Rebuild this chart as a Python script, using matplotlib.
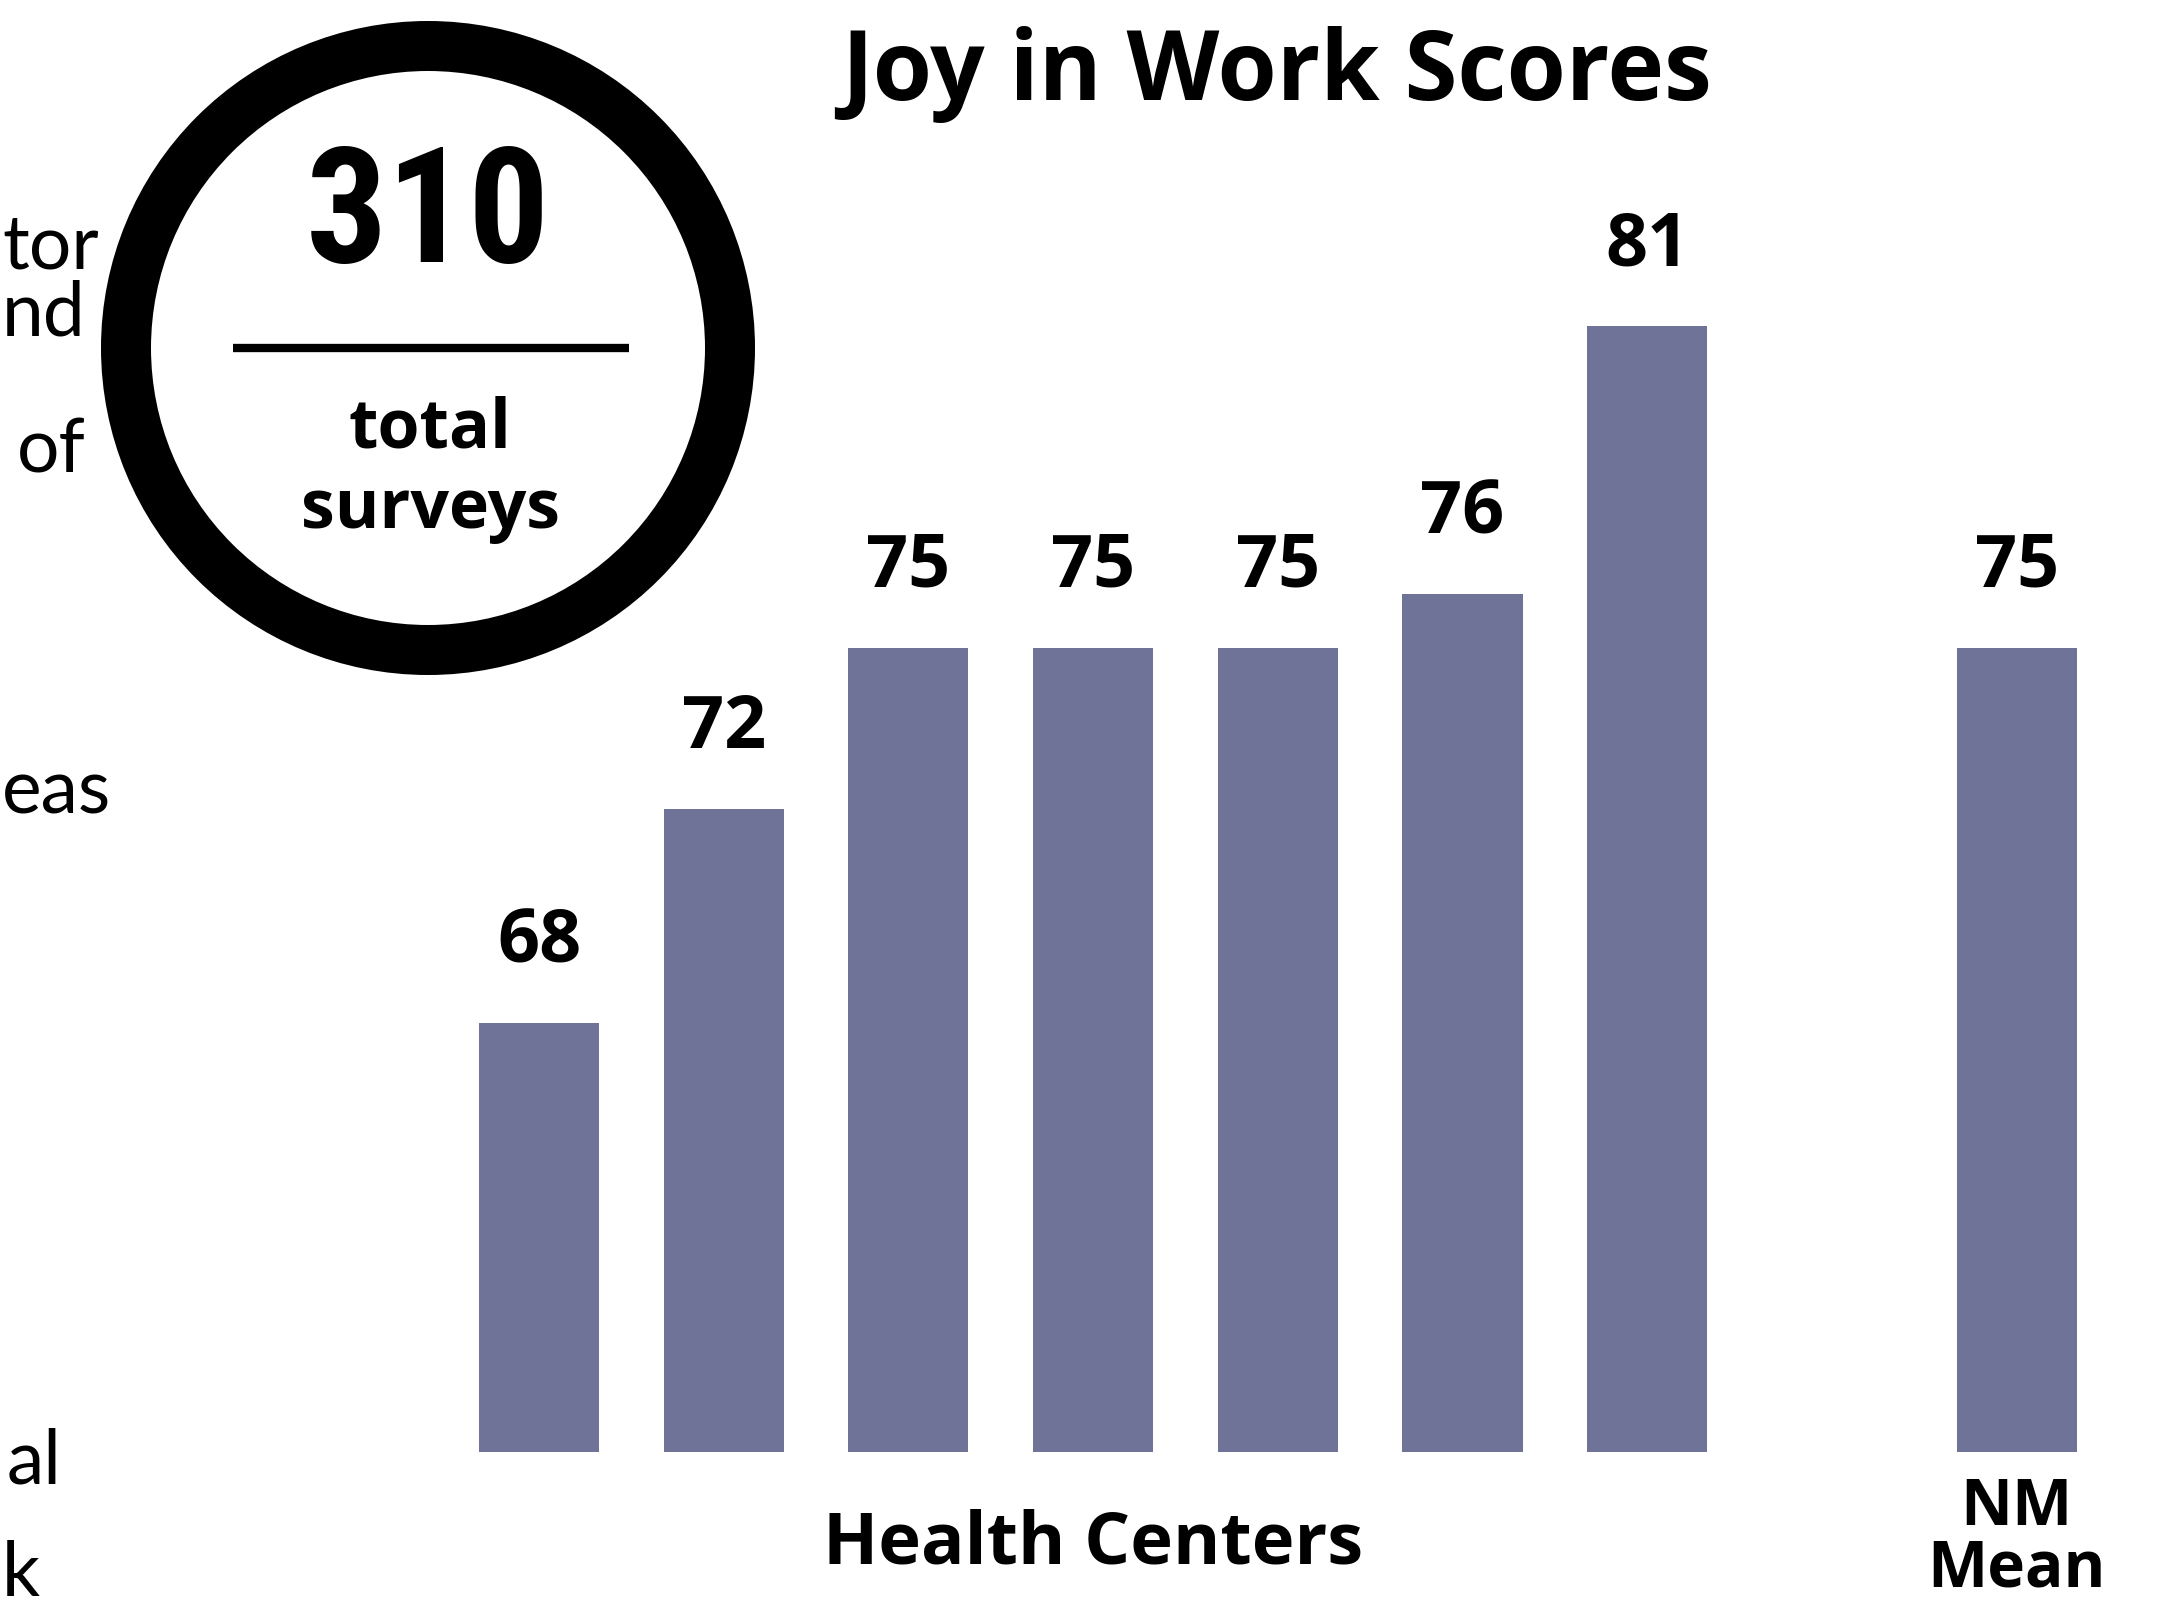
import numpy as np
import matplotlib.pyplot as plt
from matplotlib import transforms
from matplotlib.patches import Circle

# data
scores = [68, 72, 75, 75, 75, 76, 81]
nm_mean = 75
total_surveys = 310
title = "Joy in Work Scores"
group_labels = ["Health Centers", "NM\nMean"]

bar_color = "#707398"
bold_font = ["Open Sans", "DejaVu Sans"]
light_font = ["Lato", "DejaVu Sans"]
narrow_font = ["Roboto Condensed", "Liberation Sans Narrow", "Open Sans", "DejaVu Sans"]

W, H = 2174, 1609
fig = plt.figure(figsize=(W / 100, H / 100), dpi=100)
fig.patch.set_facecolor("white")

# bar axes: baseline at y pixel 1452, values start at 60
ax = fig.add_axes([0, (H - 1452) / H, 1, 1452 / H])
ax.set_xlim(-539 / 184.7, (W - 539) / 184.7)
ax.set_ylim(60, 60 + 1452 / 53.6)
ax.axis("off")

x_hc = np.arange(len(scores))
x_nm = len(scores) + 1
xs = list(x_hc) + [x_nm]
vals = scores + [nm_mean]

ax.bar(xs, vals, width=0.65, color=bar_color)
for x, v in zip(xs, vals):
    ax.annotate(str(v), (x, v), xytext=(0, 44), textcoords="offset points",
                ha="center", va="baseline", fontsize=53, fontweight="bold",
                family=bold_font)

# overlay in pixel coords for the decorations
ov = fig.add_axes([0, 0, 1, 1])
ov.set_xlim(0, W)
ov.set_ylim(H, 0)
ov.axis("off")
ov.patch.set_alpha(0)

ov.text(1277, 100, title, ha="center", va="baseline", fontsize=69,
        fontweight="bold", family=bold_font)

# group labels under the bars
trans = transforms.blended_transform_factory(ax.transData, ov.transData)
ov.text(np.mean(x_hc), 1564, group_labels[0], transform=trans, ha="center",
        va="baseline", fontsize=52, fontweight="bold", family=bold_font)
ov.text(x_nm, 1476, group_labels[1], transform=trans, ha="center",
        va="top", fontsize=46, fontweight="bold", family=bold_font,
        linespacing=0.92)

# the survey count badge
ov.add_patch(Circle((428, 348), 302, fill=False, lw=36, ec="black"))
ov.plot([233, 629], [348, 348], color="black", lw=6, solid_capstyle="butt")
ov.text(428, 262, str(total_surveys), ha="center", va="baseline", fontsize=116,
        fontweight="bold", family=narrow_font, fontstretch="condensed")
ov.text(430, 447, "total", ha="center", va="baseline", fontsize=49,
        fontweight="bold", family=bold_font)
ov.text(430, 528, "surveys", ha="center", va="baseline", fontsize=49,
        fontweight="bold", family=bold_font)

# cut-off text from the neighbouring panel (left edge of the slide)
frags = [("tor", 2, 268), ("nd", 2, 335), ("of", 17, 472),
         ("eas", 2, 813), ("al", 7, 1484), ("k", 2, 1596)]
for s, xl, yb in frags:
    ov.text(xl, yb, s, ha="left", va="baseline", fontsize=54,
            fontweight="normal", family=light_font)

fig.savefig("out.png", dpi=100, facecolor="white")
